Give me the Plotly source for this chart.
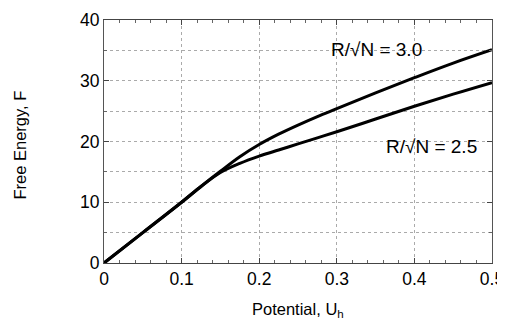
import plotly.graph_objects as go

potential = [0.0, 0.05, 0.1, 0.125, 0.15, 0.175, 0.2, 0.225, 0.25, 0.275, 0.3, 0.35, 0.4, 0.45, 0.5]
f_r30 = [0.0, 5.0, 10.0, 12.6, 15.1, 17.5, 19.5, 21.2, 22.7, 24.1, 25.4, 28.0, 30.5, 32.9, 35.1]
f_r25 = [0.0, 5.0, 10.0, 12.6, 14.9, 16.4, 17.6, 18.6, 19.6, 20.6, 21.6, 23.7, 25.8, 27.8, 29.7]

labels = ["R/\u221aN = 3.0", "R/\u221aN = 2.5"]
label_pos = [(0.351, 35.1), (0.422, 19.1)]
x_title = "Potential, U<sub>h</sub>"
y_title = "Free Energy, F"

FONT = "Liberation Sans, Arial, Helvetica, sans-serif"

fig = go.Figure()
for ys in (f_r30, f_r25):
    fig.add_trace(go.Scatter(x=potential, y=ys, mode="lines",
                             line=dict(color="black", width=3, shape="spline", smoothing=1.0),
                             showlegend=False, hoverinfo="skip"))

for txt, (lx, ly) in zip(labels, label_pos):
    fig.add_annotation(x=lx, y=ly, text=txt, showarrow=False,
                       font=dict(family=FONT, size=19, color="black"),
                       xanchor="center", yanchor="middle")

# axis titles
fig.add_annotation(xref="paper", yref="paper", x=0.5, y=0, yshift=-35,
                   xanchor="center", yanchor="top", showarrow=False,
                   text=x_title, font=dict(family=FONT, size=16.5, color="black"))
fig.add_annotation(xref="paper", yref="paper", x=0, y=0.5, xshift=-84.5, yshift=-3.5,
                   xanchor="center", yanchor="middle", textangle=-90, showarrow=False,
                   text=y_title, font=dict(family=FONT, size=16.5, color="black"))

# page body has an 8px default margin: shrink the figure so the plot area lands where the reference has it
fig.update_layout(
    width=497, height=314,
    margin=dict(l=96, r=13, t=12, b=59),
    paper_bgcolor="white", plot_bgcolor="white",
    font=dict(family=FONT, size=17, color="black"),
)
fig.update_xaxes(
    range=[0, 0.5], tickvals=[0, 0.1, 0.2, 0.3, 0.4, 0.5],
    ticktext=["0", "0.1", "0.2", "0.3", "0.4", "0.5"],
    showgrid=True, gridcolor="#aaaaaa", griddash="dot", gridwidth=1,
    showline=True, linecolor="#444444", linewidth=1, mirror="allticks",
    ticks="inside", ticklen=5, tickcolor="#444444",
    minor=dict(dtick=0.02, ticks="inside", ticklen=3, tickcolor="#666666", showgrid=False),
    zeroline=False, automargin=False,
    tickfont=dict(size=17.5),
)
fig.update_yaxes(
    range=[0, 40], tickvals=[0, 10, 20, 30, 40],
    showgrid=False,
    showline=True, linecolor="#555555", linewidth=1, mirror="allticks",
    ticks="inside", ticklen=5, tickcolor="#444444",
    minor=dict(dtick=5, ticks="inside", ticklen=3, tickcolor="#666666",
               showgrid=True, gridcolor="#aaaaaa", griddash="dot", gridwidth=1),
    zeroline=False, automargin=False,
    tickfont=dict(size=17.5),
)
fig.write_html("out.html")
